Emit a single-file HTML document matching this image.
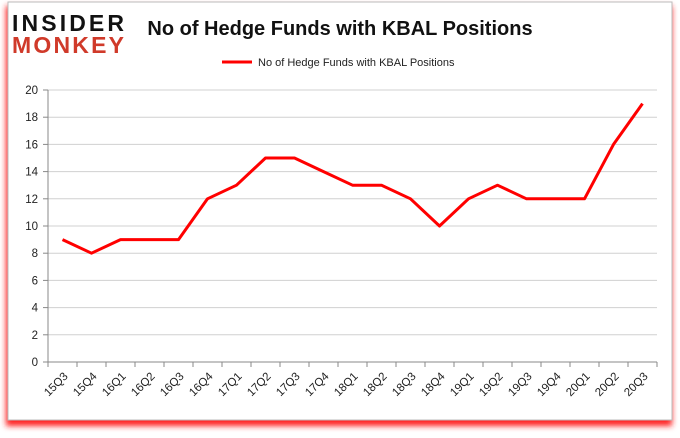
<!DOCTYPE html>
<html><head><meta charset="utf-8"><style>
body{margin:0;background:#fff;font-family:"Liberation Sans",sans-serif}
</style></head><body>
<svg width="680" height="433" xmlns="http://www.w3.org/2000/svg">
<defs><filter id="sh" x="-5%" y="-5%" width="110%" height="110%"><feGaussianBlur stdDeviation="3"/></filter></defs>
<rect x="6" y="6" width="666" height="420" fill="#ff2020" filter="url(#sh)"/>
<rect x="8" y="2" width="664" height="418" fill="#fff" stroke="#bbb"/>
<g font-weight="bold" font-size="23" font-family="'Liberation Sans',sans-serif">
<text x="12" y="31" fill="#111" textLength="112">INSIDER</text>
<text x="12" y="53" fill="#d03a2a" textLength="112">MONKEY</text>
</g>
<text x="340" y="35" text-anchor="middle" font-size="20" font-weight="bold" fill="#111">No of Hedge Funds with KBAL Positions</text>
<line x1="222" y1="62" x2="252" y2="62" stroke="#f00" stroke-width="3"/>
<text x="258" y="66" font-size="11" fill="#222">No of Hedge Funds with KBAL Positions</text>
<g id="grid"></g><g id="axes"></g><g id="series"></g>
</svg>
<script>
const categories=["15Q3","15Q4","16Q1","16Q2","16Q3","16Q4","17Q1","17Q2","17Q3","17Q4","18Q1","18Q2","18Q3","18Q4","19Q1","19Q2","19Q3","19Q4","20Q1","20Q2","20Q3"];
const values=[9,8,9,9,9,12,13,15,15,14,13,13,12,10,12,13,12,12,12,16,19];
const yTicks=[0,2,4,6,8,10,12,14,16,18,20];
const NS="http://www.w3.org/2000/svg";
const L=48,R=657,T=90,B=362;
const step=(R-L)/categories.length;
const x=i=>L+step*(i+0.5);
const y=v=>B-(v/20)*(B-T);
function mk(tag,attrs,parent){const e=document.createElementNS(NS,tag);for(const k in attrs)e.setAttribute(k,attrs[k]);parent.appendChild(e);return e;}
const g=document.getElementById('grid'),a=document.getElementById('axes'),s=document.getElementById('series');
yTicks.forEach(v=>{
 const ln=mk('line',{x1:L,x2:R,y1:y(v),y2:y(v),stroke:v===0?'#888':'#d0d0d0','stroke-width':1},g);
 
 
 const tk=mk('line',{x1:L-5,x2:L,y1:y(v),y2:y(v),stroke:'#888'},a);
 
 
 const t=mk('text',{x:L-10,y:y(v)+4,'text-anchor':'end','font-size':11.5,fill:'#222'},a);
 t.textContent=v;
 
 
});
const ax=mk('line',{x1:L,x2:L,y1:T,y2:B,stroke:'#888'},a);


categories.forEach((c,i)=>{
 const tk=mk('line',{x1:L+step*i,x2:L+step*i,y1:B,y2:B+5,stroke:'#888'},a);
 
 
 const t=mk('text',{x:x(i)+6,y:B+15,'text-anchor':'end','font-size':11.5,fill:'#222',transform:`rotate(-45 ${x(i)+6} ${B+15})`},a);
 t.textContent=c;
 
 
});
const tk2=mk('line',{x1:R,x2:R,y1:B,y2:B+5,stroke:'#888'},a);


const p=mk('polyline',{points:values.map((v,i)=>x(i)+','+y(v)).join(' '),fill:'none',stroke:'#f00','stroke-width':3,'stroke-linejoin':'round'},s);


</script>
</body></html>
